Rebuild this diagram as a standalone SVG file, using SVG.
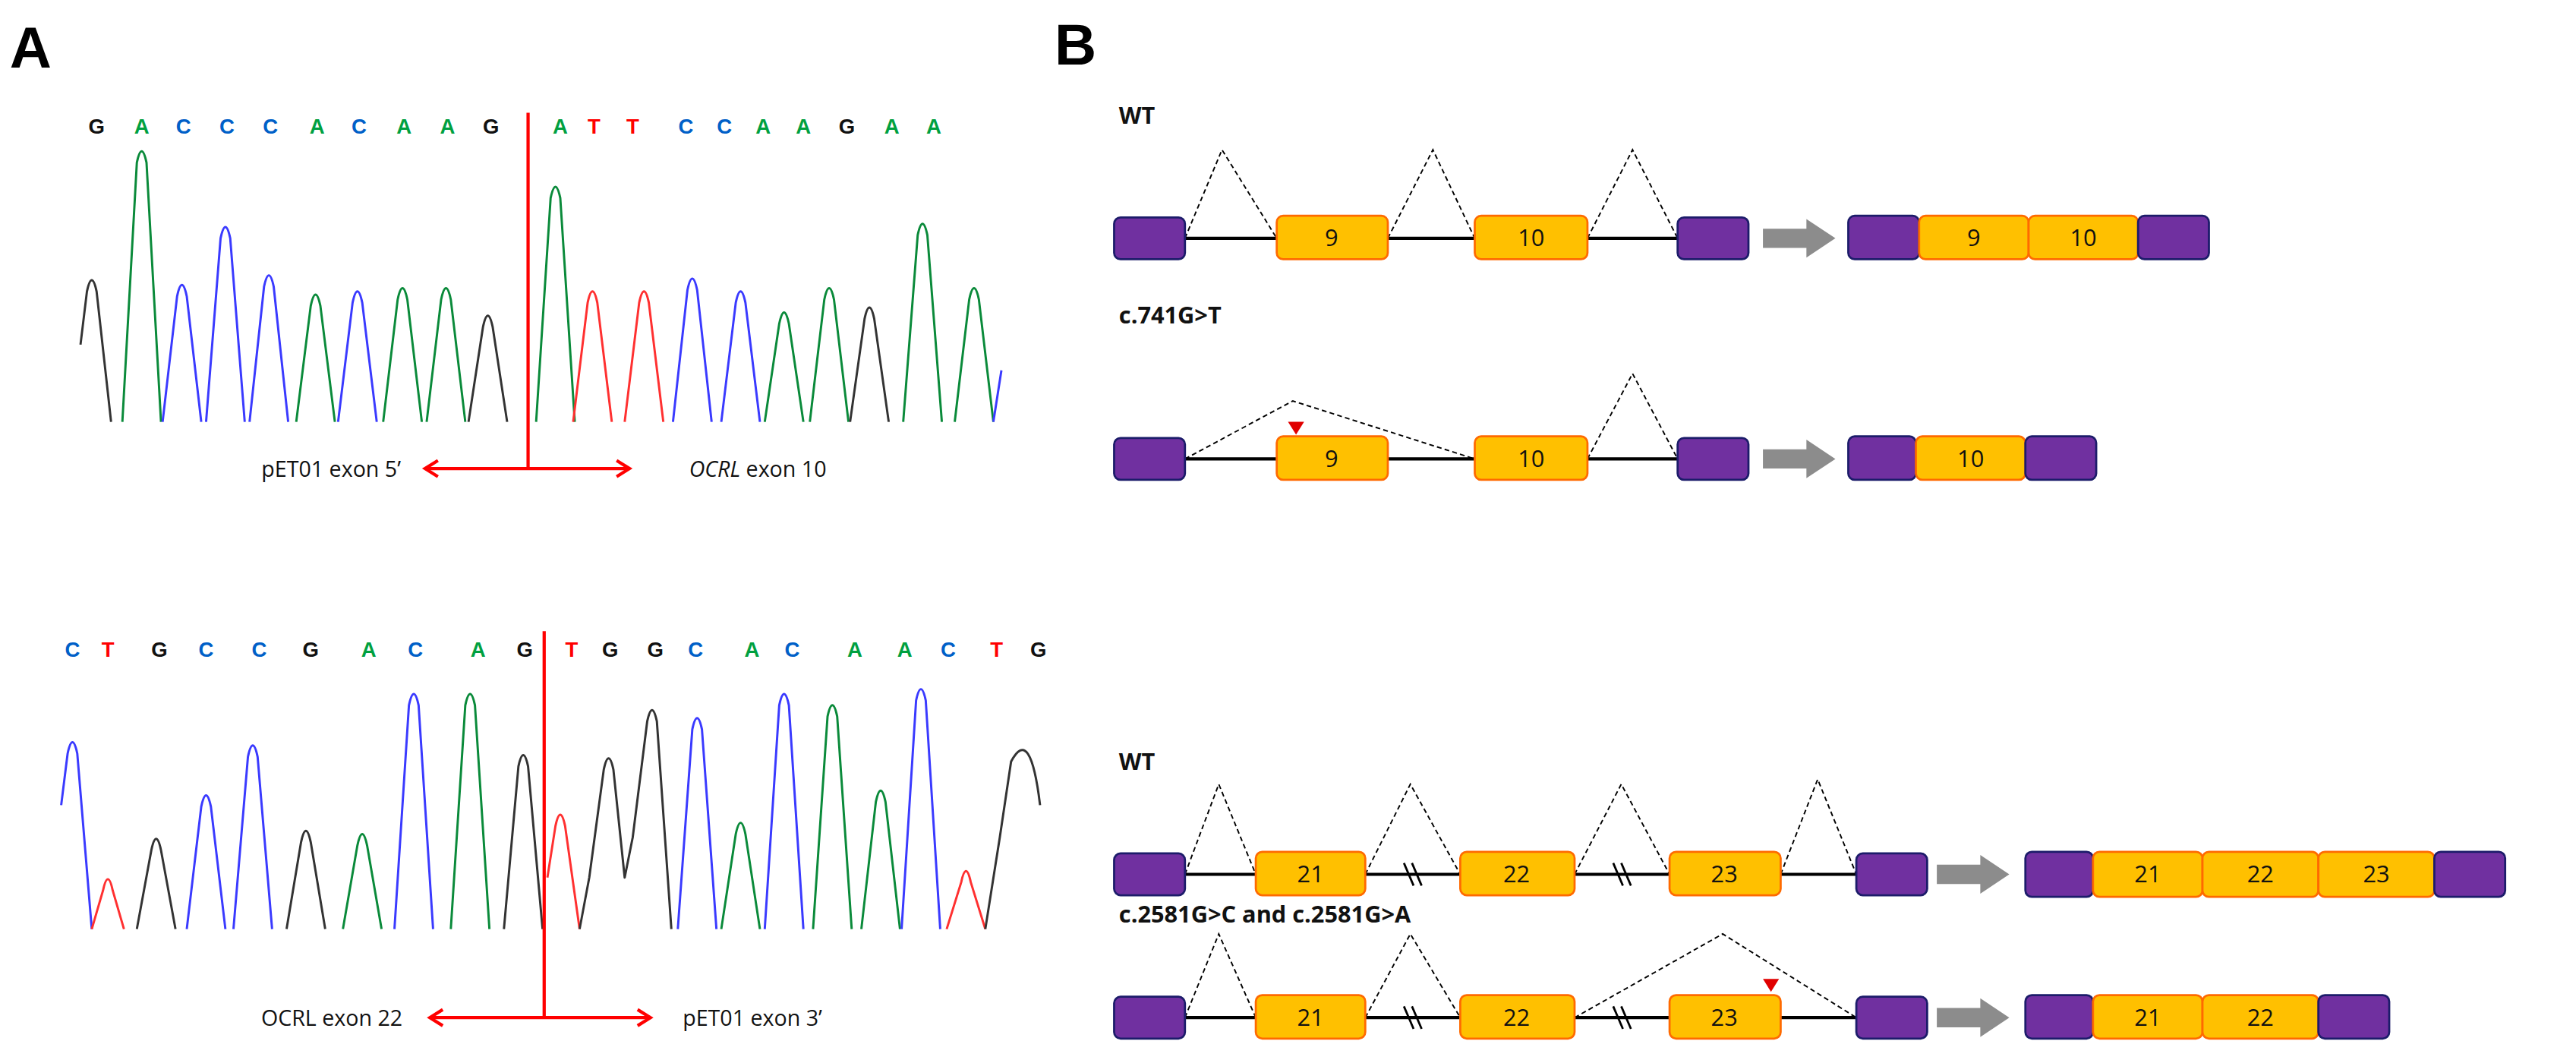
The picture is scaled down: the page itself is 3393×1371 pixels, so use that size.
<svg xmlns="http://www.w3.org/2000/svg" width="3393" height="1371" viewBox="0 0 3393 1371">
<style>
.lab{font-family:"Liberation Sans",Arial,sans-serif;font-weight:bold}
.seq{font-family:"Liberation Sans",Arial,sans-serif;font-weight:bold;font-size:13px;text-anchor:middle}
.cap{font-family:"Open Sans","Liberation Sans",sans-serif;font-size:13.5px;fill:#111}
.bl{font-family:"Open Sans","Liberation Sans",sans-serif;font-weight:bold;font-size:14.5px;fill:#111}
.num{font-family:"Open Sans","Liberation Sans",sans-serif;font-size:14.5px;text-anchor:middle;fill:#111}
.tr{fill:none;stroke-width:1.4;stroke-linejoin:round}
.g{stroke:#0a8a3a}.b{stroke:#3a3aff}.r{stroke:#ff3030}.k{stroke:#333}
.sg{fill:#00a040}.sb{fill:#0060c8}.sr{fill:#ff0000}.sk{fill:#111}
.ex{fill:#ffc000;stroke:#ff6a00;stroke-width:1.3}
.pu{fill:#7030a0;stroke:#1c1c6a;stroke-width:1.3}
.ln{stroke:#000;stroke-width:2}
.ds{fill:none;stroke:#000;stroke-width:0.9;stroke-dasharray:3,2}
.red{stroke:#ff0000;stroke-width:2;fill:none}
.ga{fill:#8c8c8c}
</style>
<g transform="scale(2.120625)">
<text class="lab" x="6" y="42" font-size="36">A</text>
<text class="lab" x="655" y="40" font-size="36">B</text>

<g id="chromA">
<g>
<text class="seq sk" x="60" y="83">G</text><text class="seq sg" x="88" y="83">A</text><text class="seq sb" x="114" y="83">C</text><text class="seq sb" x="141" y="83">C</text><text class="seq sb" x="168" y="83">C</text><text class="seq sg" x="197" y="83">A</text><text class="seq sb" x="223" y="83">C</text><text class="seq sg" x="251" y="83">A</text><text class="seq sg" x="278" y="83">A</text><text class="seq sk" x="305" y="83">G</text>
<text class="seq sg" x="348" y="83">A</text><text class="seq sr" x="369" y="83">T</text><text class="seq sr" x="393" y="83">T</text><text class="seq sb" x="426" y="83">C</text><text class="seq sb" x="450" y="83">C</text><text class="seq sg" x="474" y="83">A</text><text class="seq sg" x="499" y="83">A</text><text class="seq sk" x="526" y="83">G</text><text class="seq sg" x="554" y="83">A</text><text class="seq sg" x="580" y="83">A</text>
</g>
<path class="tr k" d="M50 214L54 181Q57 167 60 181L69 262"/>
<path class="tr g" d="M76 262L85 101Q88 87 91 101L100 262"/>
<path class="tr b" d="M101 262L110 184Q113 170 116 184L125 262"/>
<path class="tr b" d="M128 262L137 148Q140 134 143 148L152 262"/>
<path class="tr b" d="M155 262L164 178Q167 164 170 178L179 262"/>
<path class="tr g" d="M184 262L193 190Q196 176 199 190L208 262"/>
<path class="tr b" d="M210 262L219 188Q222 174 225 188L234 262"/>
<path class="tr g" d="M238 262L247 186Q250 172 253 186L262 262"/>
<path class="tr g" d="M265 262L274 186Q277 172 280 186L289 262"/>
<path class="tr k" d="M291 262L300 203Q303 189 306 203L315 262"/>
<path class="tr g" d="M333 262L342 123Q345 109 348 123L357 262"/>
<path class="tr r" d="M356 262L365 188Q368 174 371 188L380 262"/>
<path class="tr r" d="M388 262L397 188Q400 174 403 188L412 262"/>
<path class="tr b" d="M418 262L427 180Q430 166 433 180L442 262"/>
<path class="tr b" d="M448 262L457 188Q460 174 463 188L472 262"/>
<path class="tr g" d="M475 262L484 201Q487 187 490 201L499 262"/>
<path class="tr g" d="M503 262L512 186Q515 172 518 186L527 262"/>
<path class="tr k" d="M528 262L537 198Q540 184 543 198L552 262"/>
<path class="tr g" d="M561 262L570 146Q573 132 576 146L585 262"/>
<path class="tr g" d="M593 262L602 186Q605 172 608 186L617 262"/>
<path class="tr b" d="M617 262L622 230"/>
<line class="red" x1="328" y1="70" x2="328" y2="291"/>
<line class="red" x1="264" y1="291" x2="391" y2="291"/>
<polyline class="red" points="272,286 264,291 272,296"/>
<polyline class="red" points="383,286 391,291 383,296"/>
<text class="cap" x="249" y="296" text-anchor="end">pET01 exon 5’</text>
<text class="cap" x="428" y="296"><tspan font-style="italic">OCRL</tspan> exon 10</text>
</g>

<g id="chromB">
<g>
<text class="seq sb" x="45" y="408">C</text><text class="seq sr" x="67" y="408">T</text><text class="seq sk" x="99" y="408">G</text><text class="seq sb" x="128" y="408">C</text><text class="seq sb" x="161" y="408">C</text><text class="seq sk" x="193" y="408">G</text><text class="seq sg" x="229" y="408">A</text><text class="seq sb" x="258" y="408">C</text><text class="seq sg" x="297" y="408">A</text><text class="seq sk" x="326" y="408">G</text>
<text class="seq sr" x="355" y="408">T</text><text class="seq sk" x="379" y="408">G</text><text class="seq sk" x="407" y="408">G</text><text class="seq sb" x="432" y="408">C</text><text class="seq sg" x="467" y="408">A</text><text class="seq sb" x="492" y="408">C</text><text class="seq sg" x="531" y="408">A</text><text class="seq sg" x="562" y="408">A</text><text class="seq sb" x="589" y="408">C</text><text class="seq sr" x="619" y="408">T</text><text class="seq sk" x="645" y="408">G</text>
</g>
<path class="tr b" d="M38 500L42 468Q45 454 48 468L57 577"/>
<path class="tr r" d="M57 577L64 553Q67 539 70 553L77 577"/>
<path class="tr k" d="M85 577L94 528Q97 514 100 528L109 577"/>
<path class="tr b" d="M116 577L125 501Q128 487 131 501L140 577"/>
<path class="tr b" d="M145 577L154 470Q157 456 160 470L169 577"/>
<path class="tr k" d="M178 577L187 523Q190 509 193 523L202 577"/>
<path class="tr g" d="M213 577L222 525Q225 511 228 525L237 577"/>
<path class="tr b" d="M245 577L254 438Q257 424 260 438L269 577"/>
<path class="tr g" d="M280 577L289 438Q292 424 295 438L304 577"/>
<path class="tr k" d="M313 577L322 476Q325 462 328 476L337 577"/>
<path class="tr r" d="M340 545L345 513Q348 499 351 513L360 577"/>
<path class="tr k" d="M360 577L366 545L375 478Q378 464 381 478L388 545L393 520L402 448Q405 434 408 448L417 577"/>
<path class="tr b" d="M421 577L430 453Q433 439 436 453L445 577"/>
<path class="tr g" d="M448 577L457 518Q460 504 463 518L472 577"/>
<path class="tr b" d="M475 577L484 438Q487 424 490 438L499 577"/>
<path class="tr g" d="M505 577L514 445Q517 431 520 445L529 577"/>
<path class="tr g" d="M535 577L544 498Q547 484 550 498L559 577"/>
<path class="tr b" d="M560 577L569 435Q572 421 575 435L584 577"/>
<path class="tr r" d="M588 577L597 548Q600 534 603 548L612 577"/>
<path class="tr k" d="M612 577L621 520L628 473Q640 450 646 500"/>
<line class="red" x1="338" y1="392" x2="338" y2="632"/>
<line class="red" x1="267" y1="632" x2="404" y2="632"/>
<polyline class="red" points="275,627 267,632 275,637"/>
<polyline class="red" points="396,627 404,632 396,637"/>
<text class="cap" x="250" y="637" text-anchor="end">OCRL exon 22</text>
<text class="cap" x="424" y="637">pET01 exon 3’</text>
</g>

<g id="connectors">
<line class="ln" x1="736" y1="148" x2="1042" y2="148"/>
<polyline class="ds" points="736,148 759,93 793,148"/>
<polyline class="ds" points="862,148 890,93 916,148"/>
<polyline class="ds" points="986,148 1014,93 1042,148"/>
<line class="ln" x1="736" y1="285" x2="1042" y2="285"/>
<polyline class="ds" points="736,285 803,249 916,285"/>
<polyline class="ds" points="986,285 1014,232 1042,285"/>
<line class="ln" x1="736" y1="543" x2="1153" y2="543"/>
<polyline class="ds" points="736,543 757,487 780,543"/>
<polyline class="ds" points="848,543 876,487 907,543"/>
<polyline class="ds" points="978,543 1007,487 1037,543"/>
<polyline class="ds" points="1106,543 1129,484 1153,543"/>
<line class="ln" x1="736" y1="632" x2="1153" y2="632"/>
<polyline class="ds" points="736,632 757,580 780,632"/>
<polyline class="ds" points="848,632 876,580 907,632"/>
<polyline class="ds" points="978,632 1070,580 1153,632"/>
<g stroke="#000" stroke-width="1.3">
<line x1="872" y1="536" x2="878" y2="550"/><line x1="877" y1="536" x2="883" y2="550"/>
<line x1="1002" y1="536" x2="1008" y2="550"/><line x1="1007" y1="536" x2="1013" y2="550"/>
<line x1="872" y1="625" x2="878" y2="639"/><line x1="877" y1="625" x2="883" y2="639"/>
<line x1="1002" y1="625" x2="1008" y2="639"/><line x1="1007" y1="625" x2="1013" y2="639"/>
</g>
<polygon class="ga" points="1095,142 1122,142 1122,136 1140,148 1122,160 1122,154 1095,154"/>
<polygon class="ga" points="1095,279 1122,279 1122,273 1140,285 1122,297 1122,291 1095,291"/>
<polygon class="ga" points="1203,537 1230,537 1230,531 1248,543 1230,555 1230,549 1203,549"/>
<polygon class="ga" points="1203,626 1230,626 1230,620 1248,632 1230,644 1230,638 1203,638"/>
</g>

<g id="row1">
<text class="bl" x="695" y="77">WT</text>
<rect class="pu" x="692" y="135" width="44" height="26" rx="4"/>
<rect class="ex" x="793" y="134" width="69" height="27" rx="4"/><text class="num" x="827" y="153">9</text>
<rect class="ex" x="916" y="134" width="70" height="27" rx="4"/><text class="num" x="951" y="153">10</text>
<rect class="pu" x="1042" y="135" width="44" height="26" rx="4"/>
<rect class="pu" x="1148" y="134" width="44" height="27" rx="4"/>
<rect class="ex" x="1192" y="134" width="68" height="27" rx="4"/><text class="num" x="1226" y="153">9</text>
<rect class="ex" x="1260" y="134" width="68" height="27" rx="4"/><text class="num" x="1294" y="153">10</text>
<rect class="pu" x="1328" y="134" width="44" height="27" rx="4"/>
</g>

<g id="row2">
<text class="bl" x="695" y="201">c.741G&gt;T</text>
<rect class="pu" x="692" y="272" width="44" height="26" rx="4"/>
<rect class="ex" x="793" y="271" width="69" height="27" rx="4"/><text class="num" x="827" y="290">9</text>
<polygon points="800,262 810,262 805,270" fill="#e00000"/>
<rect class="ex" x="916" y="271" width="70" height="27" rx="4"/><text class="num" x="951" y="290">10</text>
<rect class="pu" x="1042" y="272" width="44" height="26" rx="4"/>
<rect class="pu" x="1148" y="271" width="42" height="27" rx="4"/>
<rect class="ex" x="1190" y="271" width="68" height="27" rx="4"/><text class="num" x="1224" y="290">10</text>
<rect class="pu" x="1258" y="271" width="44" height="27" rx="4"/>
</g>

<g id="row3">
<text class="bl" x="695" y="478">WT</text>
<rect class="pu" x="692" y="530" width="44" height="26" rx="4"/>
<rect class="ex" x="780" y="529" width="68" height="27" rx="4"/><text class="num" x="814" y="548">21</text>
<rect class="ex" x="907" y="529" width="71" height="27" rx="4"/><text class="num" x="942" y="548">22</text>
<rect class="ex" x="1037" y="529" width="69" height="27" rx="4"/><text class="num" x="1071" y="548">23</text>
<rect class="pu" x="1153" y="530" width="44" height="26" rx="4"/>
<rect class="pu" x="1258" y="529" width="42" height="28" rx="4"/>
<rect class="ex" x="1300" y="529" width="68" height="28" rx="4"/><text class="num" x="1334" y="548">21</text>
<rect class="ex" x="1368" y="529" width="72" height="28" rx="4"/><text class="num" x="1404" y="548">22</text>
<rect class="ex" x="1440" y="529" width="72" height="28" rx="4"/><text class="num" x="1476" y="548">23</text>
<rect class="pu" x="1512" y="529" width="44" height="28" rx="4"/>
</g>

<g id="row4">
<text class="bl" x="695" y="573">c.2581G&gt;C and c.2581G&gt;A</text>
<rect class="pu" x="692" y="619" width="44" height="26" rx="4"/>
<rect class="ex" x="780" y="618" width="68" height="27" rx="4"/><text class="num" x="814" y="637">21</text>
<rect class="ex" x="907" y="618" width="71" height="27" rx="4"/><text class="num" x="942" y="637">22</text>
<rect class="ex" x="1037" y="618" width="69" height="27" rx="4"/><text class="num" x="1071" y="637">23</text>
<polygon points="1095,608 1105,608 1100,616" fill="#e00000"/>
<rect class="pu" x="1153" y="619" width="44" height="26" rx="4"/>
<rect class="pu" x="1258" y="618" width="42" height="27" rx="4"/>
<rect class="ex" x="1300" y="618" width="68" height="27" rx="4"/><text class="num" x="1334" y="637">21</text>
<rect class="ex" x="1368" y="618" width="72" height="27" rx="4"/><text class="num" x="1404" y="637">22</text>
<rect class="pu" x="1440" y="618" width="44" height="27" rx="4"/>
</g>
</g>
</svg>
